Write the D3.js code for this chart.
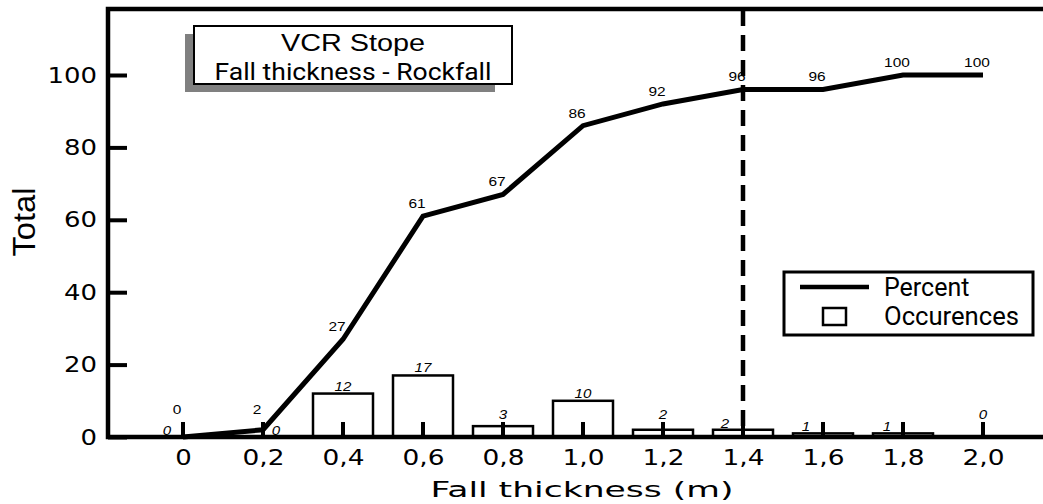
<!DOCTYPE html>
<html>
<head>
<meta charset="utf-8">
<script src="https://cdn.jsdelivr.net/npm/d3@7"></script>
<style>
  body { margin: 0; background: #fff; }
  svg { display: block; }
</style>
</head>
<body>
<svg width="1043" height="504"></svg>
<script>
// data
var thickness  = [0, 0.2, 0.4, 0.6, 0.8, 1.0, 1.2, 1.4, 1.6, 1.8, 2.0];
var tickLabels = ["0", "0,2", "0,4", "0,6", "0,8", "1,0", "1,2", "1,4", "1,6", "1,8", "2,0"];
var occurences = [0, 0, 12, 17, 3, 10, 2, 2, 1, 1, 0];
var percent    = [0, 2, 27, 61, 67, 86, 92, 96, 96, 100, 100];
var yTicks     = [0, 20, 40, 60, 80, 100];
var limitThickness = 1.4;
var titleLines = ["VCR Stope", "Fall thickness - Rockfall"];

var svg = d3.select("svg"),
    width = +svg.attr("width"),
    height = +svg.attr("height");

// plot frame
var frame = { left: 108, top: 9, base: 437 };

var x = d3.scaleLinear().domain([0, 2]).range([183, 983]);
var y = d3.scaleLinear().domain([0, 100]).range([frame.base, 75]);

var step = x(0.2) - x(0);
var barW = step * 0.75;
var tickTop = frame.base - 15;

// stretch text to a width made of per-character widths (the figure's font is wide)
function charLength(s, digit, comma) {
  var n = 0;
  for (var i = 0; i < s.length; i++) n += (s[i] === "," ? comma : digit);
  return n;
}

// bars
svg.append("g")
  .selectAll("rect")
  .data(occurences)
  .enter()
  .append("rect")
    .attr("x", function(d, i){ return x(thickness[i]) - barW / 2 })
    .attr("y", function(d){ return y(d) })
    .attr("width", barW)
    .attr("height", function(d){ return frame.base - y(d) })
    .attr("fill", "white")
    .attr("stroke", "black")
    .attr("stroke-width", 2.5)
    .style("display", function(d){ return d > 0 ? null : "none" });

// small inner ticks at each category
svg.append("g")
  .selectAll("line")
  .data(thickness)
  .enter()
  .append("line")
    .attr("x1", function(d){ return x(d) })
    .attr("x2", function(d){ return x(d) })
    .attr("y1", frame.base)
    .attr("y2", tickTop)
    .attr("stroke", "black")
    .attr("stroke-width", 4);

// percent line
var line = d3.line()
  .x(function(d, i){ return x(thickness[i]) })
  .y(function(d){ return y(d) });

svg.append("path")
  .datum(percent)
  .attr("d", line)
  .attr("fill", "none")
  .attr("stroke", "black")
  .attr("stroke-width", 5)
  .attr("stroke-linejoin", "miter");

// percent labels
svg.append("g")
  .selectAll("text")
  .data(percent)
  .enter()
  .append("text")
    .attr("x", function(d, i){ return x(thickness[i]) - 6 })
    .attr("y", function(d){ return Math.min(y(d), tickTop) - 8 })
    .attr("text-anchor", "middle")
    .style("font-family", "Liberation Sans, Arial, sans-serif")
    .style("font-size", "13px")
    .attr("textLength", function(d){ return String(d).length * 8.6 })
    .attr("lengthAdjust", "spacingAndGlyphs")
    .text(function(d){ return d });

// occurence labels (italic); small bars get their label beside the tick
var occDx = [-16, 13, 0, 0, 0, 0, 0, -18, -17, -16, 0];
svg.append("g")
  .selectAll("text")
  .data(occurences)
  .enter()
  .append("text")
    .attr("x", function(d, i){ return x(thickness[i]) + occDx[i] })
    .attr("y", function(d, i){
      if (occDx[i] !== 0) return y(d) - 2;
      return Math.min(y(d), tickTop) - 3;
    })
    .attr("text-anchor", "middle")
    .style("font-family", "Liberation Sans, Arial, sans-serif")
    .style("font-style", "italic")
    .style("font-size", "13px")
    .attr("textLength", function(d){ return String(d).length * 8.4 })
    .attr("lengthAdjust", "spacingAndGlyphs")
    .text(function(d){ return d });

// dashed limit line
svg.append("line")
  .attr("x1", x(limitThickness))
  .attr("x2", x(limitThickness))
  .attr("y1", frame.top + 1)
  .attr("y2", frame.base)
  .attr("stroke", "black")
  .attr("stroke-width", 4.5)
  .attr("stroke-dasharray", "16,9");

// y axis labels + inward ticks
var yAxis = svg.append("g")
  .attr("transform", "translate(" + frame.left + ",0)")
  .call(d3.axisLeft(y).tickValues(yTicks).tickSizeInner(-19).tickSizeOuter(0).tickPadding(11));
yAxis.select(".domain").remove();
yAxis.selectAll(".tick line").attr("stroke", "black").attr("stroke-width", 4);
yAxis.selectAll(".tick text")
  .style("font-family", "DejaVu Sans, sans-serif")
  .style("font-size", "22px")
  .attr("fill", "black")
  .attr("textLength", function(d){ return charLength(String(d), 16.5, 9) })
  .attr("lengthAdjust", "spacingAndGlyphs");

// x axis labels
var xAxis = svg.append("g")
  .attr("transform", "translate(0," + frame.base + ")")
  .call(d3.axisBottom(x).tickValues(thickness)
    .tickFormat(function(d, i){ return tickLabels[i] })
    .tickSize(0).tickPadding(12));
xAxis.select(".domain").remove();
xAxis.selectAll(".tick text")
  .style("font-family", "DejaVu Sans, sans-serif")
  .style("font-size", "22px")
  .attr("fill", "black")
  .attr("textLength", function(d, i){ return charLength(tickLabels[i], 16.5, 9) })
  .attr("lengthAdjust", "spacingAndGlyphs");

// frame as one path: top border, left axis, baseline
var fp = d3.path();
fp.moveTo(width, frame.top);
fp.lineTo(frame.left, frame.top);
fp.lineTo(frame.left, frame.base);
fp.lineTo(width, frame.base);
svg.append("path")
  .attr("d", fp.toString())
  .attr("fill", "none")
  .attr("stroke", "black")
  .attr("stroke-width", 4.5)
  .attr("stroke-linejoin", "miter");

// axis titles
svg.append("text")
  .attr("x", 582)
  .attr("y", 497)
  .attr("text-anchor", "middle")
  .style("font-family", "DejaVu Sans, sans-serif")
  .style("font-size", "22px")
  .attr("textLength", 303)
  .attr("lengthAdjust", "spacingAndGlyphs")
  .text("Fall thickness (m)");

svg.append("text")
  .attr("transform", "translate(35,222) rotate(-90)")
  .attr("text-anchor", "middle")
  .style("font-family", "Liberation Sans, Arial, sans-serif")
  .style("font-size", "31px")
  .attr("textLength", 69)
  .attr("lengthAdjust", "spacingAndGlyphs")
  .text("Total");

// title box with shadow
var tb = { x: 194, y: 26, w: 318, h: 58 };
svg.append("rect")
  .attr("x", tb.x - 9).attr("y", tb.y + 8).attr("width", tb.w - 8).attr("height", tb.h)
  .attr("fill", "#808080");
svg.append("rect")
  .attr("x", tb.x).attr("y", tb.y).attr("width", tb.w).attr("height", tb.h)
  .attr("fill", "white").attr("stroke", "black").attr("stroke-width", 2);
svg.append("text")
  .attr("x", tb.x + tb.w / 2).attr("y", 51)
  .attr("text-anchor", "middle")
  .style("font-family", "Liberation Sans, Arial, sans-serif")
  .style("font-size", "24px")
  .attr("textLength", 144)
  .attr("lengthAdjust", "spacingAndGlyphs")
  .text(titleLines[0]);
svg.append("text")
  .attr("x", tb.x + tb.w / 2).attr("y", 80)
  .attr("text-anchor", "middle")
  .style("font-family", "Roboto, Liberation Sans, sans-serif")
  .style("font-size", "24px")
  .attr("textLength", 277)
  .attr("lengthAdjust", "spacingAndGlyphs")
  .text(titleLines[1]);

// legend
var lg = svg.append("g");
lg.append("rect")
  .attr("x", 784).attr("y", 272).attr("width", 249).attr("height", 63)
  .attr("fill", "white").attr("stroke", "black").attr("stroke-width", 3);
lg.append("line")
  .attr("x1", 800).attr("x2", 869).attr("y1", 287).attr("y2", 287)
  .attr("stroke", "black").attr("stroke-width", 4.5);
lg.append("rect")
  .attr("x", 823).attr("y", 308).attr("width", 23).attr("height", 17)
  .attr("fill", "white").attr("stroke", "black").attr("stroke-width", 2.5);
lg.append("text")
  .attr("x", 884).attr("y", 296)
  .style("font-family", "Roboto, sans-serif").style("font-size", "25px")
  .text("Percent");
lg.append("text")
  .attr("x", 884).attr("y", 325)
  .style("font-family", "Roboto, sans-serif").style("font-size", "25px")
  .attr("textLength", 135)
  .attr("lengthAdjust", "spacingAndGlyphs")
  .text("Occurences");
</script>
</body>
</html>
